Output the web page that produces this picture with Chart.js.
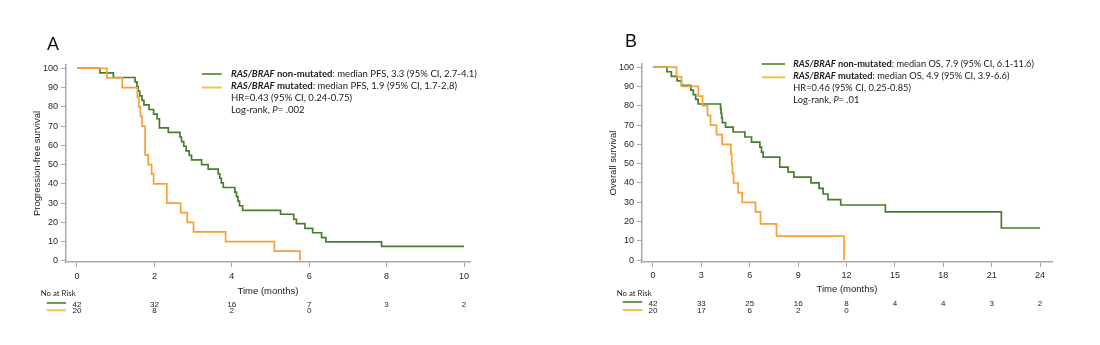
<!DOCTYPE html>
<html><head><meta charset="utf-8">
<script src="https://cdn.jsdelivr.net/npm/chart.js@4.4.0/dist/chart.umd.min.js"></script>
<style>
html,body{margin:0;padding:0;background:#fff;}
#wrap{position:relative;width:1100px;height:345px;overflow:hidden;background:#fff;}
.pane{position:absolute;top:0;width:550px;height:345px;}
</style></head><body>
<div id="wrap">
<div class="pane" style="left:0"><canvas id="cA" width="550" height="345"></canvas></div>
<div class="pane" style="left:550px"><canvas id="cB" width="550" height="345"></canvas></div>
</div>
<script>
// ---------- DATA ----------
// Panel A: progression-free survival (months, %)
const pfsNonMutTime = [0,0.59,0.94,1.50,1.55,1.58,1.62,1.68,1.73,1.86,1.98,2.07,2.13,2.36,2.66,2.70,2.76,2.82,2.90,2.96,3.22,3.39,3.65,3.69,3.73,3.78,4.08,4.12,4.16,4.20,4.28,5.26,5.60,5.67,5.89,6.09,6.32,6.43,7.87,10.0];
const pfsNonMutSurv = [100,97.6,95.2,92.9,90.5,88.1,85.7,83.3,81.0,78.6,76.2,73.8,69.0,66.7,64.3,61.9,59.5,57.1,54.8,52.4,50.0,47.6,45.2,42.9,40.5,38.1,35.7,33.3,31.0,28.6,26.2,24.2,21.6,19.3,16.9,14.6,12.1,9.9,7.5,7.5];
const pfsMutTime = [0,0.77,1.17,1.56,1.60,1.64,1.68,1.76,1.84,1.93,1.98,2.32,2.68,2.85,3.01,3.84,5.10,5.76];
const pfsMutSurv = [100,95,90,85,80,75,70,55,50,45,40,30,25,20,15,10,5,0];
// Panel B: overall survival (months, %)
const osNonMutTime = [0,0.87,1.14,1.50,1.77,2.35,2.50,2.65,2.80,4.19,4.22,4.26,4.30,4.50,4.97,5.70,6.11,6.63,6.73,6.83,7.86,8.38,8.74,9.80,10.30,10.55,10.85,11.64,14.41,21.60,24.0];
const osNonMutSurv = [100,97.6,95.2,92.9,90.5,88.1,85.7,83.3,80.9,78.5,76.1,73.7,71.3,68.9,66.4,63.8,61.2,58.6,56.0,53.4,48.2,45.6,43.0,40.1,37.2,34.3,31.4,28.6,25.0,16.7,16.7];
const osMutTime = [0,1.46,1.77,2.81,3.07,3.38,3.57,3.94,4.29,4.83,4.88,4.93,5.00,5.28,5.53,6.36,6.67,7.66,11.85];
const osMutSurv = [100,95,90,85,80,75,70,65,60,55,50,45,40,35,30,25,18.8,12.5,0];

// tick labels
const xTicksA = [0,2,4,6,8,10];
const xTicksB = [0,3,6,9,12,15,18,21,24];
const yTicks = [0,10,20,30,40,50,60,70,80,90,100];

// numbers at risk
const riskA_nonMut = [42,32,16,7,3,2];
const riskA_mut = [20,8,2,0];
const riskB_nonMut = [42,33,25,16,8,4,4,3,2];
const riskB_mut = [20,17,6,2,0];

// texts
const legendA = [
  [['RAS/BRAF','bi'],[' non-mutated','b'],[': median PFS, 3.3 (95% CI, 2.7-4.1)','n']],
  [['RAS/BRAF','bi'],[' mutated','b'],[': median PFS, 1.9 (95% CI, 1.7-2.8)','n']],
  [['HR=0.43 (95% CI, 0.24-0.75)','n']],
  [['Log-rank, ','n'],['P','i'],['= .002','n']]
];
const legendB = [
  [['RAS/BRAF','bi'],[' non-mutated','b'],[': median OS, 7.9 (95% CI, 6.1-11.6)','n']],
  [['RAS/BRAF','bi'],[' mutated','b'],[': median OS, 4.9 (95% CI, 3.9-6.6)','n']],
  [['HR=0.46 (95% CI, 0.25-0.85)','n']],
  [['Log-rank, ','n'],['P','i'],['= .01','n']]
];

// ---------- STYLE ----------
const FONT = '"Liberation Sans", Arial, sans-serif';
const LFONT = 'Lato, "Liberation Sans", sans-serif';
const GREEN = '#477d2e';
const ORANGE = '#f5a137';
const LGREEN = '#6e9c52';
const LYELLOW = '#f2c24a';
const AXIS = '#a9a9a9';
const STYLE = {n:'normal', b:'bold', i:'italic', bi:'italic bold'};

function runsWidth(ctx, runs, size){
  let w = 0;
  for (const r of runs){ ctx.font = `${STYLE[r[1]]} ${size}px ${LFONT}`; w += ctx.measureText(r[0]).width; }
  return w;
}
function drawRuns(ctx, runs, x, y, size){
  let cx = x;
  for (const r of runs){
    ctx.font = `${STYLE[r[1]]} ${size}px ${LFONT}`;
    ctx.fillText(r[0], cx, y);
    cx += ctx.measureText(r[0]).width;
  }
}

const extras = {
  id: 'kmExtras',
  afterDraw(chart){
    const g = chart.options.plugins.kmExtras;
    const ctx = chart.ctx;
    const o = g.offset;
    ctx.save();
    ctx.fillStyle = '#111';
    ctx.textBaseline = 'alphabetic';
    ctx.textAlign = 'left';
    ctx.font = `18px ${FONT}`;
    ctx.fillText(g.letter, g.letterX - o, g.letterY);

    // legend
    ctx.lineWidth = 2;
    [LGREEN, LYELLOW].forEach((c,i)=>{
      ctx.strokeStyle = c;
      ctx.beginPath();
      ctx.moveTo(g.legLineX[0]-o, g.legLineY[i]);
      ctx.lineTo(g.legLineX[1]-o, g.legLineY[i]);
      ctx.stroke();
    });
    const size = 10 * g.legWidth / runsWidth(ctx, g.legend[0], 10);
    ctx.textBaseline = 'middle';
    ctx.fillStyle = '#1a1a1a';
    g.legend.forEach((runs,i)=> drawRuns(ctx, runs, g.legTextX - o, g.legTextY[i], size));

    // risk table
    const nsize = 9 * 35 / runsWidth(ctx, [['No at Risk','n']], 9);
    drawRuns(ctx, [['No at Risk','n']], g.riskLabelX - o, g.riskLabelY, nsize);
    ctx.lineWidth = 2;
    [LGREEN, LYELLOW].forEach((c,i)=>{
      ctx.strokeStyle = c;
      ctx.beginPath();
      ctx.moveTo(g.riskLineX[0]-o, g.riskLineY[i]);
      ctx.lineTo(g.riskLineX[1]-o, g.riskLineY[i]);
      ctx.stroke();
    });
    const xs = chart.scales.x;
    ctx.textAlign = 'center';
    ctx.font = `8px ${FONT}`;
    ctx.fillStyle = '#222';
    g.riskRows.forEach((row,ri)=>{
      row.forEach((v,k)=>{
        ctx.fillText(String(v), xs.getPixelForValue(g.ticks[k]), g.riskNumY[ri]);
      });
    });
    ctx.restore();
  }
};

function pts(t, s){ return t.map((v,i)=>({x:v, y:s[i]})); }

function makeChart(id, p){
  return new Chart(document.getElementById(id), {
    type: 'line',
    data: {
      datasets: [
        {label:'non-mutated', data: pts(p.t1,p.s1), borderColor: GREEN, borderWidth: 1.7, stepped: true, pointRadius: 0, fill: false, order: 2},
        {label:'mutated', data: pts(p.t2,p.s2), borderColor: ORANGE, borderWidth: 1.7, stepped: true, pointRadius: 0, fill: false, order: 1}
      ]
    },
    options: {
      responsive: false,
      animation: false,
      layout: {padding: {left: 0, top: p.top, right: p.right, bottom: 0}},
      plugins: {legend:{display:false}, tooltip:{enabled:false}, kmExtras: p.extras},
      scales: {
        x: {
          type: 'linear', min: p.xmin, max: p.xmax,
          afterBuildTicks: s => { s.ticks = p.ticks.map(v=>({value:v})); },
          afterFit: s => { s.height = 345 - p.bottom; },
          grid: {drawOnChartArea:false, drawTicks:true, tickLength:5, color:AXIS, lineWidth:1},
          border: {display:true, color:AXIS, width:1.5},
          ticks: {font:{family:FONT, size:9}, color:'#262626', padding:p.xpad, maxRotation:0, autoSkip:false},
          title: {display:true, text:'Time (months)', font:{family:FONT, size:9.5}, color:'#1a1a1a', padding:{top:0, bottom:p.xtitlePad}}
        },
        y: {
          type: 'linear', min: p.ymin, max: p.ymax,
          afterBuildTicks: s => { s.ticks = yTicks.map(v=>({value:v})); },
          afterFit: s => { s.width = p.left; },
          grid: {drawOnChartArea:false, drawTicks:true, tickLength:5, color:AXIS, lineWidth:1},
          border: {display:true, color:AXIS, width:1.5},
          ticks: {font:{family:FONT, size:9}, color:'#262626', padding:3, autoSkip:false},
          title: {display:true, text:p.ytitle, font:{family:FONT, size:9.5}, color:'#1a1a1a', padding:{top:p.ytitlePad, bottom:0}}
        }
      }
    },
    plugins: [extras]
  });
}

makeChart('cA', {
  t1: pfsNonMutTime, s1: pfsNonMutSurv, t2: pfsMutTime, s2: pfsMutSurv,
  top: 65, bottom: 262, left: 66, right: 80,
  xmin: -0.284, xmax: 10.155, ymin: -0.6, ymax: 101.7,
  ticks: xTicksA, xpad: 4, xtitlePad: 48.3,
  ytitle: 'Progression-free survival', ytitlePad: 31.6,
  extras: {
    offset: 0, letter: 'A', letterX: 47, letterY: 50,
    legend: legendA, legWidth: 246,
    legLineX: [201.7, 221.7], legLineY: [74, 87.5],
    legTextX: 231, legTextY: [74, 86, 98, 110],
    riskLabelX: 40.7, riskLabelY: 293.7,
    riskLineX: [46.7, 66], riskLineY: [303, 310.3],
    riskRows: [riskA_nonMut, riskA_mut], riskNumY: [304.7, 311], ticks: xTicksA
  }
});

makeChart('cB', {
  t1: osNonMutTime, s1: osNonMutSurv, t2: osMutTime, s2: osMutSurv,
  top: 64, bottom: 262, left: 92, right: 48,
  xmin: -0.68, xmax: 24.74, ymin: -0.9, ymax: 101.6,
  ticks: xTicksB, xpad: 3, xtitlePad: 49.6,
  ytitle: 'Overall survival', ytitlePad: 57.6,
  extras: {
    offset: 550, letter: 'B', letterX: 625, letterY: 47,
    legend: legendB, legWidth: 241,
    legLineX: [761.7, 785], legLineY: [64, 77.3],
    legTextX: 793.3, legTextY: [64, 76, 88, 100],
    riskLabelX: 616.7, riskLabelY: 293,
    riskLineX: [622.7, 642.3], riskLineY: [302, 310],
    riskRows: [riskB_nonMut, riskB_mut], riskNumY: [304, 310.7], ticks: xTicksB
  }
});
</script>
</body></html>
